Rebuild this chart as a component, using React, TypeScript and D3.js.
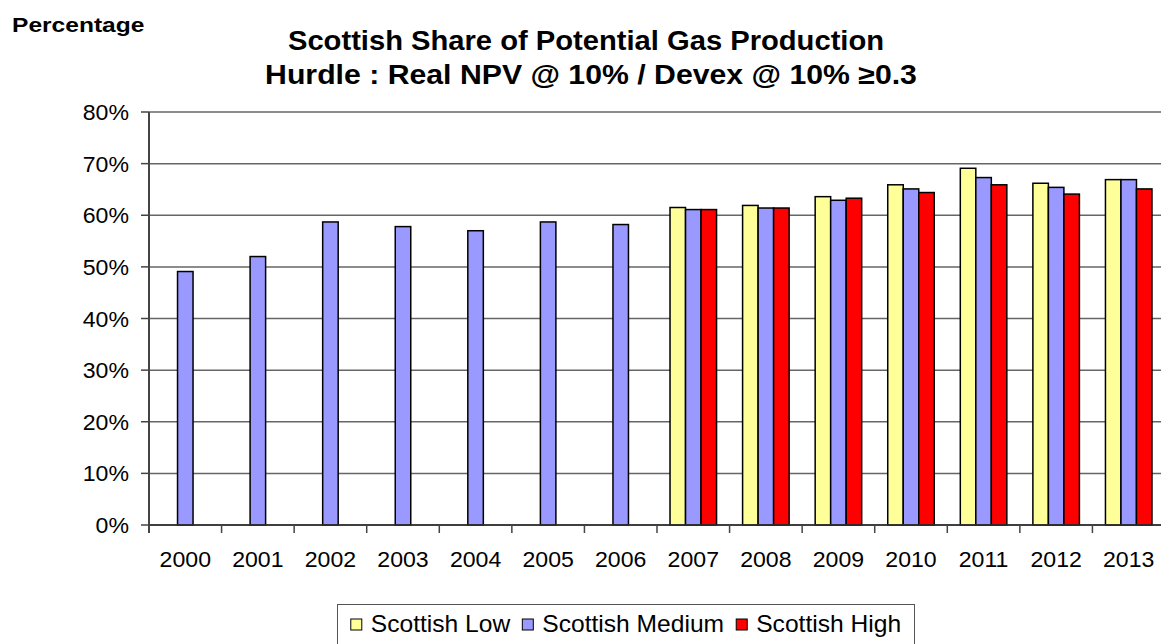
import React from "react";
import * as d3 from "d3";

const years = ["2000","2001","2002","2003","2004","2005","2006","2007","2008","2009","2010","2011","2012","2013"];
const seriesNames = ["Scottish Low", "Scottish Medium", "Scottish High"];
const lowValues: (number | null)[] = [null, null, null, null, null, null, null, 61.5, 61.9, 63.6, 65.9, 69.1, 66.2, 66.9];
const mediumValues: (number | null)[] = [49.1, 52.0, 58.7, 57.8, 57.0, 58.7, 58.2, 61.1, 61.4, 62.9, 65.1, 67.3, 65.4, 66.9];
const highValues: (number | null)[] = [null, null, null, null, null, null, null, 61.1, 61.4, 63.3, 64.4, 65.9, 64.1, 65.1];
const yTicks = [0, 10, 20, 30, 40, 50, 60, 70, 80];
const titleLines = ["Scottish Share of Potential Gas Production", "Hurdle : Real NPV @ 10% / Devex @ 10% \u22650.3"];
const yAxisTitle = "Percentage";

const colors = ["#FFFF99", "#9999FF", "#FF0000"];
const W = 1161, H = 644;
const FONT = "'Liberation Sans', Arial, sans-serif";

function measure(text: string, size: number, sx: number, bold = false) {
  const c = document.createElement("canvas").getContext("2d")!;
  c.font = `${bold ? "bold " : ""}${size}px 'Liberation Sans', Arial, sans-serif`;
  return c.measureText(text).width * sx;
}

function SText(props: { x: number; y: number; anchor?: string; size: number; sx: number; bold?: boolean; children: React.ReactNode; fill?: string }) {
  const { x, y, anchor = "start", size, sx, bold, children, fill = "#000" } = props;
  return (
    <text
      transform={`translate(${x},${y}) scale(${sx},1)`}
      textAnchor={anchor}
      fontFamily={FONT}
      fontSize={size}
      fontWeight={bold ? "bold" : "normal"}
      fill={fill}
    >
      {children}
    </text>
  );
}

export default function App() {
  const left = 149, right = 1165, top = 112, bottom = 525;
  const x = d3.scaleBand<string>().domain(years).range([left, right]).paddingInner(0).paddingOuter(0);
  const y = d3.scaleLinear().domain([0, 80]).range([bottom, top]);
  const bw = x.bandwidth();
  const barW = bw / 4.68;
  const x1 = d3.scaleBand<string>().domain(seriesNames).range([bw / 2 - 1.5 * barW, bw / 2 + 1.5 * barW]);
  const all = [lowValues, mediumValues, highValues];

  // legend layout
  const legSize = 23, legSX = 1.07;
  const sq = 11, sqGap = 9, itemGap = 12;
  const widths = seriesNames.map((s) => measure(s, legSize, legSX));
  const total = widths.reduce((a, b) => a + b, 0) + 3 * (sq + sqGap) + 2 * itemGap;
  let cursor = 626 - total / 2;
  const legendItems = seriesNames.map((s, i) => {
    const item = { s, sqX: cursor, textX: cursor + sq + sqGap, color: colors[i] };
    cursor += sq + sqGap + widths[i] + itemGap;
    return item;
  });

  return (
    <svg width={W} height={H} style={{ position: "absolute", left: 0, top: 0, background: "#fff" }}>
      <rect x={0} y={0} width={W} height={H} fill="#fff" />
      <SText x={12} y={32} size={21} sx={1.17} bold>{yAxisTitle}</SText>
      <SText x={586} y={50} size={27} sx={1.08} bold anchor="middle">{titleLines[0]}</SText>
      <SText x={591} y={84} size={27} sx={1.12} bold anchor="middle">{titleLines[1]}</SText>

      {/* gridlines */}
      {yTicks.map((t) => (
        <line key={"g" + t} x1={left} x2={W} y1={y(t)} y2={y(t)} stroke={t === 0 ? "#333" : "#666"} strokeWidth={1.5} />
      ))}
      {/* y ticks and labels */}
      {yTicks.map((t) => (
        <g key={"yt" + t}>
          <line x1={left - 8} x2={left} y1={y(t)} y2={y(t)} stroke="#444" strokeWidth={1.5} />
          <SText x={129} y={y(t) + 8} size={22} sx={1.05} anchor="end">{`${t}%`}</SText>
        </g>
      ))}

      {/* bars */}
      {all.map((vals, si) =>
        vals.map((v, i) =>
          v == null ? null : (
            <rect
              key={`b${si}-${i}`}
              x={(x(years[i]) as number) + (x1(seriesNames[si]) as number)}
              y={y(v)}
              width={x1.bandwidth()}
              height={y(0) - y(v)}
              fill={colors[si]}
              stroke="#000"
              strokeWidth={1.5}
            />
          )
        )
      )}

      {/* axes */}
      <line x1={left} x2={left} y1={top} y2={bottom + 8} stroke="#444" strokeWidth={2} />
      <line x1={left} x2={W} y1={bottom} y2={bottom} stroke="#333" strokeWidth={1.5} />
      {years.map((yr) => (
        <g key={"xt" + yr}>
          <line x1={x(yr) as number} x2={x(yr) as number} y1={bottom} y2={bottom + 8} stroke="#444" strokeWidth={1.5} />
          <SText x={(x(yr) as number) + bw / 2} y={567} size={22} sx={1.05} anchor="middle">{yr}</SText>
        </g>
      ))}

      {/* legend */}
      <rect x={337.5} y={604.5} width={577} height={50} fill="#fff" stroke="#555" strokeWidth={1} />
      {legendItems.map((it) => (
        <g key={it.s}>
          <rect x={it.sqX} y={619} width={sq} height={sq} fill={it.color} stroke="#000" strokeWidth={1} />
          <SText x={it.textX} y={632} size={legSize} sx={legSX}>{it.s}</SText>
        </g>
      ))}
    </svg>
  );
}
